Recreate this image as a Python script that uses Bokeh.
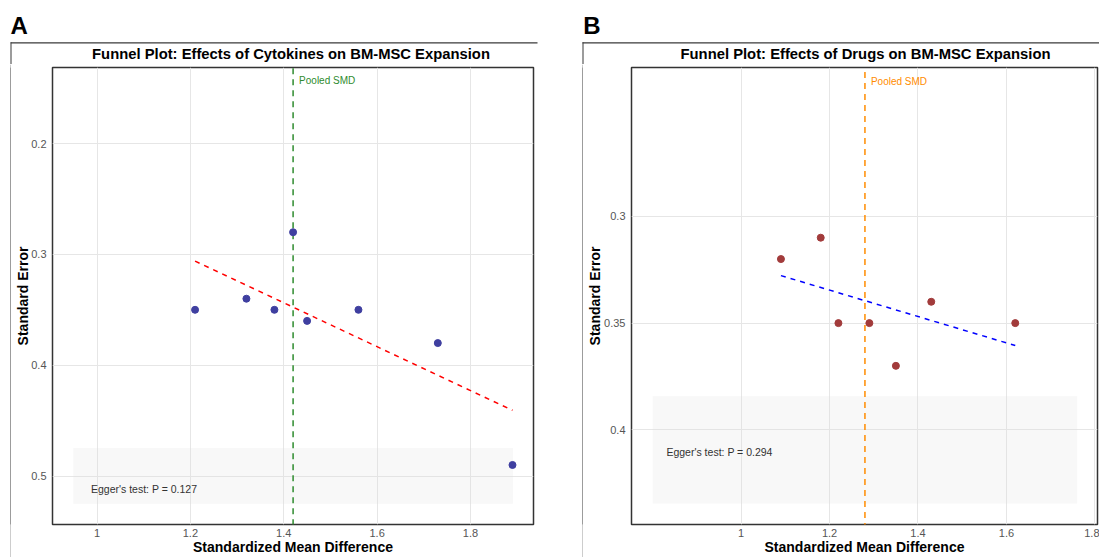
import numpy as np
from bokeh.plotting import figure
from bokeh.models import Range1d, FixedTicker, Label, Spacer
from bokeh.layouts import row, column
from bokeh.embed import file_html
from bokeh.resources import INLINE

# ---------------- data ----------------
cyto_smd = [1.21, 1.32, 1.38, 1.42, 1.45, 1.56, 1.73, 1.89]
cyto_se = [0.35, 0.34, 0.35, 0.28, 0.36, 0.35, 0.38, 0.49]
cyto_pooled = 1.42
cyto_egger = "Egger's test: P = 0.127"
cyto_title = "Funnel Plot: Effects of Cytokines on BM-MSC Expansion"

drug_smd = [1.09, 1.18, 1.22, 1.29, 1.35, 1.43, 1.62]
drug_se = [0.32, 0.31, 0.35, 0.35, 0.37, 0.34, 0.35]
drug_pooled = 1.28
drug_egger = "Egger's test: P = 0.294"
drug_title = "Funnel Plot: Effects of Drugs on BM-MSC Expansion"

x_ticks = [1.0, 1.2, 1.4, 1.6, 1.8]
x_tick_labels = ["1", "1.2", "1.4", "1.6", "1.8"]
yA_ticks = [0.2, 0.3, 0.4, 0.5]
yA_tick_labels = ["0.2", "0.3", "0.4", "0.5"]
yB_ticks = [0.3, 0.35, 0.4]
yB_tick_labels = ["0.3", "0.35", "0.4"]

FONT = "Liberation Sans"
STRIP_H = 64
LOW_H = 557 - STRIP_H
TOTAL_W = 1099
EDGE = "#3a3a3a"


def bare(width, height, xr, yr, bg="white"):
    f = figure(width=width, height=height, output_backend="svg", toolbar_location=None,
               x_range=Range1d(*xr), y_range=Range1d(*yr),
               min_border=0, min_border_left=0, min_border_right=0,
               min_border_top=0, min_border_bottom=0)
    f.axis.visible = False
    f.grid.visible = False
    f.outline_line_color = None
    f.background_fill_color = bg
    f.border_fill_color = bg
    return f


def panel(smd, se, pooled, egger, yticks, ylabels,
          W, FL, FR, FT, FB, xr, yr, box_x, box_y, txt_xy, pool_lab_y,
          pt_col, fit_col, pool_col, y_lab_so, y_tit_so):
    p = figure(width=W, height=LOW_H, output_backend="svg", toolbar_location=None,
               x_range=Range1d(*xr), y_range=Range1d(*yr),
               min_border_left=FL, min_border_right=W - FR,
               min_border_top=FT, min_border_bottom=LOW_H - FB)
    p.background_fill_color = "white"
    p.border_fill_color = "white"
    p.outline_line_color = "#333333"
    p.outline_line_width = 1.5

    for ax, ticks, labels in ((p.xaxis, x_ticks, x_tick_labels), (p.yaxis, yticks, ylabels)):
        ax.ticker = FixedTicker(ticks=ticks)
        ax.major_label_overrides = {t: l for t, l in zip(ticks, labels)}
        ax.axis_line_color = None
        ax.major_tick_line_color = None
        ax.minor_tick_line_color = None
        ax.major_tick_out = 0
        ax.major_tick_in = 0
        ax.minor_tick_out = 0
        ax.minor_tick_in = 0
        ax.major_label_text_font = FONT
        ax.major_label_text_font_size = "11px"
        ax.major_label_text_color = "#555555"
        ax.axis_label_text_font = FONT
        ax.axis_label_text_font_size = "14px"
        ax.axis_label_text_font_style = "bold"
        ax.axis_label_text_color = "black"
    p.xaxis.axis_label = "Standardized Mean Difference"
    p.yaxis.axis_label = "Standard Error"
    p.xaxis.major_label_standoff = 4
    p.xaxis.axis_label_standoff = -1
    p.yaxis.major_label_standoff = y_lab_so
    p.yaxis.axis_label_standoff = y_tit_so
    p.xgrid.ticker = FixedTicker(ticks=x_ticks)
    p.ygrid.ticker = FixedTicker(ticks=yticks)
    for g in (p.xgrid, p.ygrid):
        g.grid_line_color = "#E6E6E6"
        g.grid_line_width = 1

    # Egger annotation background + text
    p.quad(left=[box_x[0]], right=[box_x[1]], top=[box_y[0]], bottom=[box_y[1]],
           fill_color="#DDDDDD", fill_alpha=0.22, line_color=None)
    p.add_layout(Label(x=txt_xy[0], y=txt_xy[1], text=egger, text_font=FONT,
                       text_font_size="10.5px", text_color="#333333",
                       text_align="left", text_baseline="middle"))

    # pooled SMD line
    p.line(x=[pooled, pooled], y=[yr[0] + 0.1, yr[1] - 0.1], line_color=pool_col,
           line_width=1.5, line_dash="6 5")
    p.add_layout(Label(x=pooled, y=pool_lab_y, x_offset=6, text="Pooled SMD",
                       text_font=FONT, text_font_size="10px", text_color=pool_col,
                       text_align="left", text_baseline="middle"))

    # regression line (SE on SMD)
    b, a = np.polyfit(np.array(smd), np.array(se), 1)
    xs = np.array([min(smd), max(smd)])
    p.line(x=xs, y=a + b * xs, line_color=fit_col, line_width=1.5, line_dash="5 5")

    # study points
    p.scatter(x=smd, y=se, size=7, fill_color=pt_col, line_color=pt_col)
    return p


# top strip: panel letters, plot titles and top edges of the panel frames
strip = bare(TOTAL_W, STRIP_H, (0, TOTAL_W), (STRIP_H, 0))
strip.quad(left=[10.2, 582], right=[537, TOTAL_W], top=[41.7, 41.7], bottom=[43, 43],
           fill_color=EDGE, line_color=None)
strip.quad(left=[10, 582], right=[11, 583], top=[41.7, 41.7], bottom=[STRIP_H, STRIP_H],
           fill_color=EDGE, line_color=None)
for letter, lx in (("A", 10), ("B", 582.7)):
    strip.add_layout(Label(x=lx, y=25, text=letter, text_font=FONT,
                           text_font_size="24px", text_font_style="bold",
                           text_color="black", text_align="left",
                           text_baseline="middle"))
for ttl, cx in ((cyto_title, 290.5), (drug_title, 865)):
    strip.add_layout(Label(x=cx, y=53.5, text=ttl, text_font=FONT,
                           text_font_size="14.8px", text_font_style="bold",
                           text_color="black", text_align="center",
                           text_baseline="middle"))

vA = bare(1, LOW_H, (0, 1), (0, 1), bg=EDGE)
vB = bare(1, LOW_H, (0, 1), (0, 1), bg=EDGE)

pA = panel(cyto_smd, cyto_se, cyto_pooled, cyto_egger, yA_ticks, yA_tick_labels,
           W=571, FL=41, FR=522, FT=3, FB=462,
           xr=(0.9046, 1.935), yr=(0.5437, 0.1314),
           box_x=(0.949, 1.891), box_y=(0.4746, 0.525), txt_xy=(0.987, 0.5115),
           pool_lab_y=0.1431,
           pt_col="#3F3FA0", fit_col="#FF0000", pool_col="#2E8B2E",
           y_lab_so=6, y_tit_so=-3)

pB = panel(drug_smd, drug_se, drug_pooled, drug_egger, yB_ticks, yB_tick_labels,
           W=TOTAL_W - 583, FL=48, FR=514, FT=2, FB=461,
           xr=(0.752, 1.806), yr=(0.4443, 0.2303),
           box_x=(0.80, 1.76), box_y=(0.3842, 0.4345), txt_xy=(0.831, 0.4104),
           pool_lab_y=0.2367,
           pt_col="#A23B3B", fit_col="#0000FF", pool_col="#FF8C00",
           y_lab_so=6, y_tit_so=-2)

layout = column(strip, row(Spacer(width=10, height=LOW_H), vA, pA, vB, pB))
open("out.html", "w").write(file_html(layout, INLINE))
